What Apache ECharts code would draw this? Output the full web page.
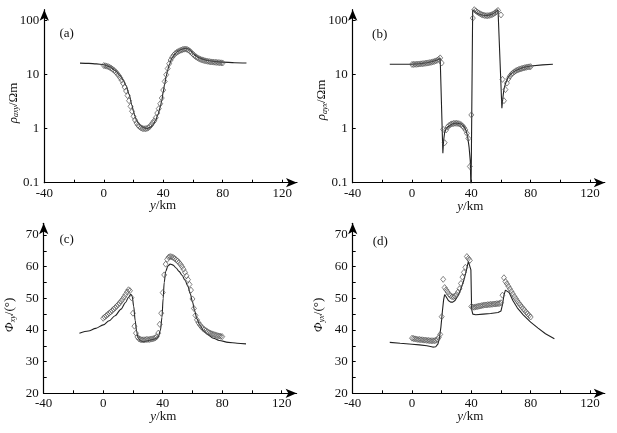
<!DOCTYPE html>
<html>
<head>
<meta charset="utf-8">
<script src="https://cdn.jsdelivr.net/npm/echarts@6/dist/echarts.min.js"></script>
<style>
  html, body { margin: 0; padding: 0; background: #fff; }
  #main { width: 617px; height: 433px; }
</style>
</head>
<body>
<div id="main"></div>
<script>
// 测点位置 (km)
const siteKm = [0,1,2,3,4,5,6,7,8,9,10,11,12,13,14,15,16,17,18,19,20,21,22,23,24,25,26,27,28,29,30,
  31,32,33,34,35,36,37,38,39,40,41,42,43,44,45,46,47,48,49,50,51,52,53,54,55,56,57,58,59,60,
  61,62,63,64,65,66,67,68,69,70,71,72,73,74,75,76,77,78,79,80];

// 观测数据 (菱形)
const rhoXyObs = [14.8,14.6,14.4,14.1,13.7,13.2,12.6,12.0,11.3,10.5,9.7,8.8,7.9,6.9,5.9,5.0,4.1,3.3,2.6,2.1,
  1.7,1.45,1.28,1.16,1.09,1.04,1.01,1.0,1.0,1.01,1.04,1.1,1.18,1.3,1.4,1.6,1.95,2.35,2.9,3.7,
  5.2,7.5,10.0,13.0,16.0,18.7,21.0,23.0,24.6,25.8,26.8,27.7,28.5,29.2,29.7,29.9,29.5,28.6,27.2,25.6,
  24.0,22.6,21.5,20.6,19.9,19.3,18.9,18.5,18.2,17.9,17.7,17.5,17.3,17.2,17.1,17.0,16.9,16.8,16.7,16.6,16.5];
const rhoYxObs = [15.5,15.5,15.6,15.6,15.7,15.8,15.9,16.0,16.1,16.3,16.4,16.6,16.8,17.0,17.3,17.6,18.0,18.5,19.3,20.5,
  16.5,0.97,0.55,0.95,1.08,1.15,1.2,1.23,1.25,1.26,1.26,1.25,1.23,1.19,1.13,1.05,0.95,0.82,0.66,0.2,
  1.8,112,160,152,145,139,134,130,127,125,124,124,125,127,130,134,140,147,155,165,
  128,8.2,3.3,5.3,7.0,8.4,9.4,10.2,10.8,11.3,11.8,12.2,12.5,12.8,13.0,13.3,13.5,13.7,13.9,14.0,14.1];
const phiXyObs = [43.7,44.1,44.5,44.9,45.3,45.7,46.1,46.6,47.0,47.5,48.0,48.5,49.1,49.7,50.4,51.2,52.0,52.7,52.4,50.2,
  45.3,41.2,39.0,37.8,37.2,37.0,36.9,36.9,36.9,37.0,37.0,37.0,37.1,37.2,37.3,37.5,37.9,39.0,41.8,45.3,
  51.8,57.4,60.8,62.3,63.0,63.2,63.1,62.9,62.6,62.2,61.8,61.3,60.7,60.0,59.2,58.2,57.1,55.9,54.4,52.6,
  49.8,46.8,44.6,43.2,42.3,41.6,41.0,40.5,40.1,39.8,39.5,39.2,39.0,38.8,38.6,38.5,38.3,38.2,38.1,38.0,37.9];
const phiYxObs = [37.4,37.3,37.2,37.1,37.0,37.0,36.9,36.9,36.8,36.8,36.7,36.7,36.6,36.6,36.6,36.6,36.7,37.0,37.6,38.6,
  44.2,56.0,53.4,52.7,52.0,51.3,50.8,50.5,50.5,50.7,51.2,52.0,53.0,54.7,56.7,58.2,59.8,63.2,62.6,62.0,
  47.4,47.2,47.2,47.3,47.4,47.5,47.6,47.7,47.8,47.9,47.9,48.0,48.0,48.1,48.1,48.2,48.2,48.3,48.3,48.4,
  48.6,51.0,56.5,55.3,54.6,53.8,53.0,52.2,51.4,50.6,49.9,49.2,48.5,47.9,47.3,46.7,46.2,45.6,45.1,44.6,44.1];

// 模型响应 (实线)
const rhoXyFitKm = [-16,-10,-5,0,4,8,11,13,15,17,19,20,21,22,23,25,27,29,31,33,35,36.5,38,39,40,41,42,43,44,46,48,50,52,54,55.5,57,58.5,60,62,64,67,70,75,80,88,96];
const rhoXyFit = [16.4,16.2,15.9,15.3,14.0,11.8,9.6,8.0,6.3,4.4,2.7,2.1,1.7,1.45,1.3,1.12,1.04,1.01,1.05,1.17,1.45,1.85,2.5,3.3,4.8,6.8,9.3,12.2,15.2,20.5,24.5,27.3,29.3,30.6,31.0,30.0,27.8,25.0,22.3,20.6,19.2,18.3,17.5,17.1,16.7,16.5];
const rhoYxFitKm = [-15,0,5,10,14,17,19,20,20.8,21.3,22,23,24.5,27,30,33,35,36.5,37.5,38.5,39.3,39.8,40.4,40.9,42,44,46,48,50,52,54,56,58,59.3,60.6,61,61.5,62,63,64,65,67,70,75,80,88,95];
const rhoYxFit = [15.6,15.6,16.0,16.7,17.6,18.8,20.0,19.0,0.35,0.6,0.85,1.0,1.1,1.22,1.28,1.22,1.1,0.92,0.72,0.45,0.25,0.06,0.06,160,150,138,130,126,125,127,132,142,158,168,2.4,3.2,4.2,5.4,6.8,8.0,9.1,10.6,12.0,13.6,14.5,15.2,15.6];
const phiXyFitKm = [-16,-10,-5,0,4,8,12,15,17,18.5,19.5,20.5,21.5,22.5,23.5,25,27,30,33,35.5,37,38.5,39.5,40.3,41,42,43.5,45,47,49,51,53,55,57,58.5,60,61.5,63,65,67.5,70,74,78,84,90,96];
const phiXyFit = [39.0,39.7,40.5,41.6,42.9,44.5,46.6,48.7,50.3,51.3,50.6,47.5,43.0,39.5,37.5,36.6,36.3,36.6,37.0,37.3,37.9,40.0,44.0,50.0,55.0,58.5,60.2,60.8,60.5,59.6,58.5,57.3,55.7,53.7,51.5,48.9,46.0,43.5,41.5,39.8,38.6,37.4,36.7,36.1,35.8,35.6];
const phiYxFitKm = [-15,-8,0,5,10,14,16,17.5,18.5,19.5,20.5,21.3,22,23,24.5,26,27.5,29,31,33,35,36.5,38,39,39.7,40.2,41,43,48,53,58,60,61,62,63,64,65.5,68,71,75,80,85,90,96];
const phiYxFit = [36.1,35.8,35.5,35.3,35.0,34.6,34.7,35.6,37.5,41.0,46.0,49.5,51.2,50.5,49.3,48.8,48.8,49.3,50.8,53.0,55.8,58.5,61.7,62.2,59.0,46.5,45.0,44.8,45.0,45.2,45.5,46.0,48.0,51.0,52.6,52.8,51.8,49.3,47.0,44.8,42.5,40.6,38.8,37.2];

// 坐标轴刻度
const xTicks = [-40,-20,0,20,40,60,80,100,120];
const xLabels = [-40,0,40,80,120];
const rhoTicks = [0.1,1,10,100];
const phiTicks = [20,25,30,35,40,45,50,55,60,65,70];
const phiLabels = [20,30,40,50,60,70];

const serif = "'Liberation Serif', 'Times New Roman', serif";
const pairs = (xs, ys) => xs.map((x, i) => [x, ys[i]]);

var chart = echarts.init(document.getElementById('main'), null, { renderer: 'canvas' });

// 四个子图的位置
const grids = [
  { left: 44.3, right: 320, top: 9.7, bottom: 250.3 },
  { left: 352.7, right: 12.2, top: 9.7, bottom: 250.3 },
  { left: 43.7, right: 320.4, top: 223.3, bottom: 39.7 },
  { left: 352.7, right: 12.2, top: 223.3, bottom: 39.7 }
];

const axisLine = {
  show: true,
  onZero: false,
  symbol: ['none', 'arrow'],
  symbolSize: [7, 11],
  lineStyle: { color: '#000', width: 1.2 }
};

function xAxisOf(i) {
  return {
    type: 'value', gridIndex: i, min: -40, max: 130, interval: 20,
    axisLine: axisLine,
    axisTick: { show: true, inside: true, length: 3, customValues: xTicks, lineStyle: { color: '#000' } },
    axisLabel: { customValues: xLabels, margin: 4, color: '#111', fontSize: 13, fontFamily: serif },
    splitLine: { show: false }
  };
}

function rhoAxisOf(i) {
  return {
    type: 'log', logBase: 10, gridIndex: i, min: 0.1, max: 160,
    axisLine: axisLine,
    axisTick: { show: true, inside: true, length: 3, customValues: rhoTicks, lineStyle: { color: '#000' } },
    axisLabel: { customValues: rhoTicks, margin: 5, color: '#111', fontSize: 13, fontFamily: serif,
      formatter: v => String(v) },
    splitLine: { show: false }
  };
}

function phiAxisOf(i) {
  return {
    type: 'value', gridIndex: i, min: 20, max: 73.7, interval: 5,
    axisLine: axisLine,
    axisTick: { show: true, inside: true, length: 3, customValues: phiTicks, lineStyle: { color: '#000' } },
    axisLabel: { customValues: phiLabels, margin: 5, color: '#111', fontSize: 13, fontFamily: serif },
    splitLine: { show: false }
  };
}

function fitLine(i, xs, ys, smooth) {
  return {
    type: 'line', xAxisIndex: i, yAxisIndex: i, data: pairs(xs, ys),
    showSymbol: false, smooth: smooth, smoothMonotone: 'x', clip: true,
    lineStyle: { color: '#222', width: 1.1 }, z: 2
  };
}

function obsDots(i, ys) {
  return {
    type: 'scatter', xAxisIndex: i, yAxisIndex: i, data: pairs(siteKm, ys),
    symbol: 'diamond', symbolSize: [5, 6],
    itemStyle: { color: 'transparent', borderColor: '#555', borderWidth: 0.9 }, z: 3
  };
}

// 坐标轴名称与子图编号
const rich = {
  i: { fontStyle: 'italic', fontSize: 13, fontFamily: serif, color: '#111' },
  s: { fontStyle: 'italic', fontSize: 8, fontFamily: serif, color: '#111', padding: [6, 0, 0, 0] },
  n: { fontSize: 13, fontFamily: serif, color: '#111' }
};
function label(x, y, text, rot) {
  return {
    type: 'text', x: x, y: y, rotation: rot || 0,
    style: { text: text, rich: rich, align: 'center', verticalAlign: 'middle', font: '13px ' + serif, fill: '#111' }
  };
}

const option = {
  animation: false,
  backgroundColor: '#fff',
  grid: grids.map(g => Object.assign({ containLabel: false, outerBoundsMode: 'none' }, g)),
  xAxis: [0, 1, 2, 3].map(xAxisOf),
  yAxis: [rhoAxisOf(0), rhoAxisOf(1), phiAxisOf(2), phiAxisOf(3)],
  series: [
    fitLine(0, rhoXyFitKm, rhoXyFit, 0.3),
    obsDots(0, rhoXyObs),
    fitLine(1, rhoYxFitKm, rhoYxFit, false),
    obsDots(1, rhoYxObs),
    fitLine(2, phiXyFitKm, phiXyFit, 0.3),
    obsDots(2, phiXyObs),
    fitLine(3, phiYxFitKm, phiYxFit, false),
    obsDots(3, phiYxObs)
  ],
  graphic: [
    label(66.7, 33.3, '{n|(a)}'),
    label(379.7, 35, '{n|(b)}'),
    label(66.7, 240, '{n|(c)}'),
    label(380.3, 241.7, '{n|(d)}'),
    label(163, 206, '{i|y}{n|/km}'),
    label(470.3, 206.7, '{i|y}{n|/km}'),
    label(163.3, 416.7, '{i|y}{n|/km}'),
    label(470.3, 416.7, '{i|y}{n|/km}'),
    label(13.3, 103, '{i|ρ}{s|axy}{n|/Ωm}', Math.PI / 2),
    label(322, 100, '{i|ρ}{s|ayx}{n|/Ωm}', Math.PI / 2),
    label(10, 315, '{i|Φ}{s|xy}{n|/(°)}', Math.PI / 2),
    label(318.7, 315, '{i|Φ}{s|yx}{n|/(°)}', Math.PI / 2)
  ]
};

chart.setOption(option);
</script>
</body>
</html>
